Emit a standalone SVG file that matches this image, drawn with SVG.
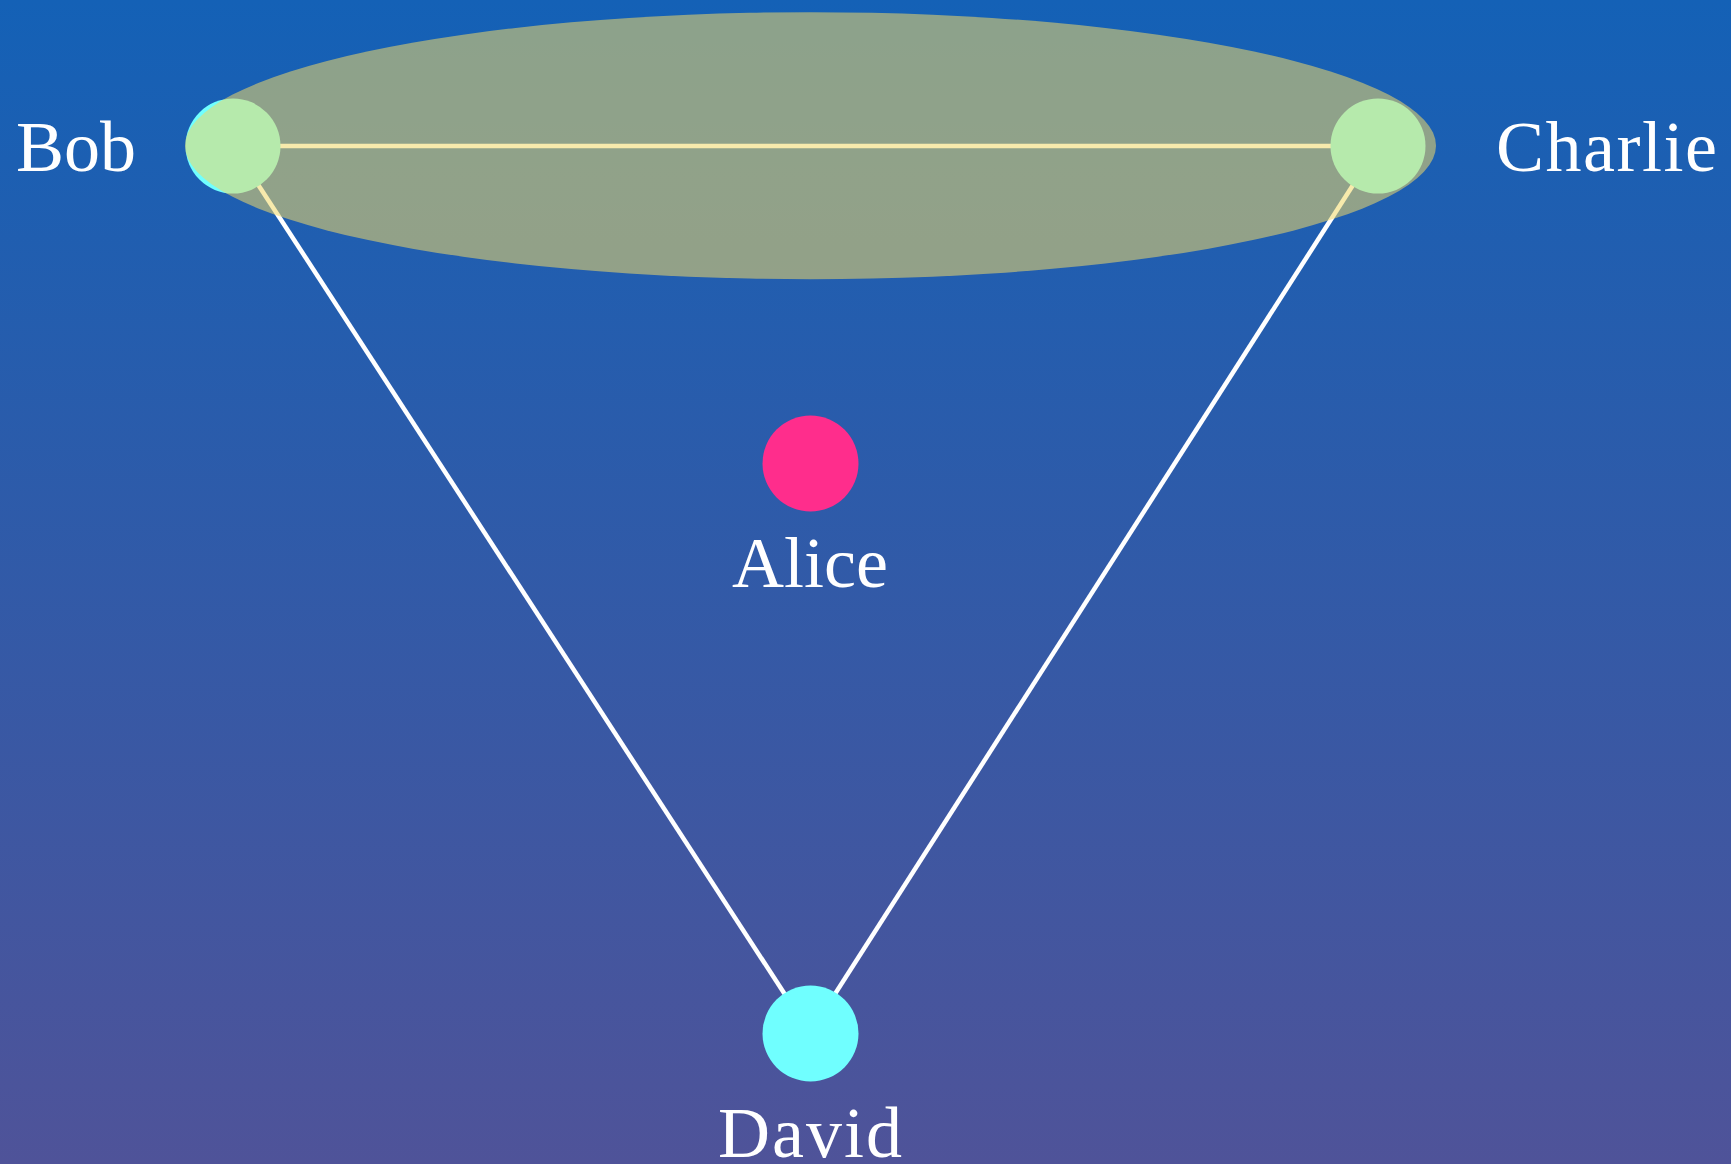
<svg xmlns="http://www.w3.org/2000/svg" width="1731" height="1164" viewBox="0 0 1731 1164">
  <defs>
    <linearGradient id="bg" x1="0" y1="0" x2="0" y2="1">
      <stop offset="0" stop-color="#1461b6"/>
      <stop offset="1" stop-color="#4f5399"/>
    </linearGradient>
  </defs>
  <style>
    .edge { stroke: #ffffff; stroke-width: 4.5; fill: none; }
    .lbl { font-family: "Palatino Linotype", "Book Antiqua", Palatino, "Liberation Serif", serif; font-size: 72px; fill: #ffffff; }
  </style>
  <rect x="0" y="0" width="1731" height="1164" fill="url(#bg)"/>
  <g id="connectors">
    <line class="edge" x1="233" y1="146" x2="1378" y2="146"/>
    <line class="edge" x1="233" y1="146" x2="810" y2="1033"/>
    <line class="edge" x1="1378" y1="146" x2="810" y2="1033"/>
  </g>
  <g id="node-bob">
    <circle cx="233" cy="146" r="47.5" fill="#70ffff"/>
    <text class="lbl" x="136" y="171" text-anchor="end">Bob</text>
  </g>
  <g id="node-charlie">
    <circle cx="1378" cy="146" r="47.5" fill="#70ffff"/>
    <text class="lbl" x="1496" y="171" letter-spacing="1.5">Charlie</text>
  </g>
  <g id="node-alice">
    <circle cx="810.5" cy="463.5" r="48" fill="#ff2d8c"/>
    <text class="lbl" x="810" y="587" text-anchor="middle">Alice</text>
  </g>
  <g id="node-david">
    <circle cx="810.5" cy="1033.5" r="48" fill="#70ffff"/>
    <text class="lbl" x="811" y="1157" text-anchor="middle" font-size="74" letter-spacing="2">David</text>
  </g>
  <g id="group-ellipse">
    <ellipse cx="810.5" cy="145.7" rx="625.5" ry="133.5" fill="rgb(240,216,104)" fill-opacity="0.55"/>
  </g>
</svg>
